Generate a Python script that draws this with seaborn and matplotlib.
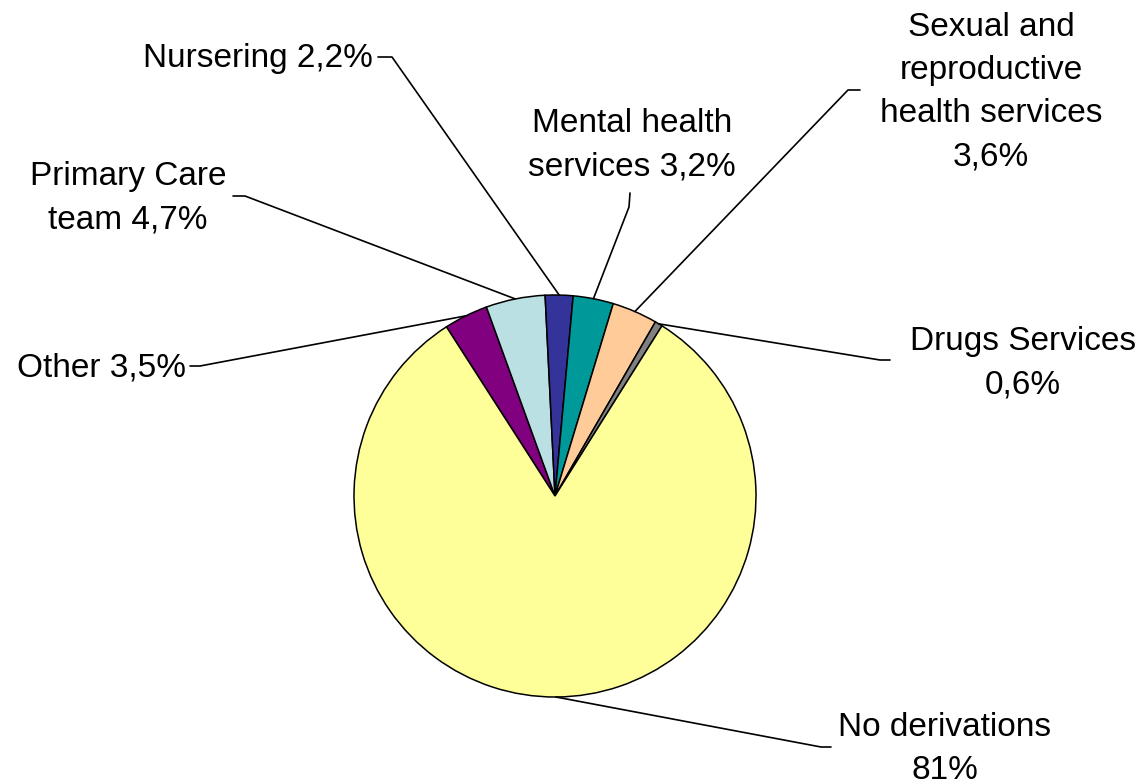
import numpy as np
import matplotlib
matplotlib.use('Agg')
import matplotlib.pyplot as plt
import seaborn as sns

# Chart data
categories = ['Other', 'Primary Care team', 'Nursering', 'Mental health services',
              'Sexual and reproductive health services', 'Drugs Services', 'No derivations']
label_texts = ['Other 3,5%', 'Primary Care\nteam 4,7%', 'Nursering 2,2%',
               'Mental health\nservices 3,2%',
               'Sexual and\nreproductive\nhealth services\n3,6%',
               'Drugs Services\n0,6%', 'No derivations\n81%']
values = [3.5, 4.7, 2.2, 3.2, 3.6, 0.6, 81.0]
colors = ['#800080', '#BBE0E3', '#333399', '#009999', '#FFCC99', '#808080', '#FFFF99']

# Layout (pixel coords of the 1147x784 canvas, y downwards)
W, H = 1147, 784
text_pos = [(186, 368), (128, 198), (373, 58), (632, 145), (991, 92), (1023, 363), (945, 749)]
text_ha = ['right', 'center', 'right', 'center', 'center', 'center', 'center']
elbows = [(200, 366), (245, 196), (392, 57), (629, 207), (848, 90), (880, 360), (821, 747)]
ends = [(190, 366), (233, 196), (378, 57), (630, 193), (860, 90), (890, 360), (831, 747)]

sns.set_theme(style='white')
plt.rcParams['font.family'] = ['Liberation Sans', 'DejaVu Sans']

fig = plt.figure(figsize=(W / 100, H / 100), dpi=100)
ax = fig.add_axes([0, 0, 1, 1])

center = (555, H - 496)
radius = 201
wedges, _ = ax.pie(values, colors=colors, startangle=122.7, counterclock=False,
                   center=center, radius=radius,
                   wedgeprops=dict(edgecolor='black', linewidth=1.1))

for w, txt, (tx, ty), ha, (ex, ey), (nx, ny) in zip(wedges, label_texts, text_pos,
                                                     text_ha, elbows, ends):
    mid = np.deg2rad((w.theta1 + w.theta2) / 2)
    px = center[0] + radius * np.cos(mid)
    py = center[1] + radius * np.sin(mid)
    ax.plot([px, ex, nx], [py, H - ey, H - ny], color='black', lw=1.2, zorder=1)
    ax.text(tx, H - ty, txt, ha=ha, va='center', multialignment='center',
            fontsize=24, color='black', linespacing=1.5)

ax.set_xlim(0, W)
ax.set_ylim(0, H)
ax.set_aspect('equal')
ax.axis('off')

fig.savefig('out.png', dpi=100, facecolor='white')
